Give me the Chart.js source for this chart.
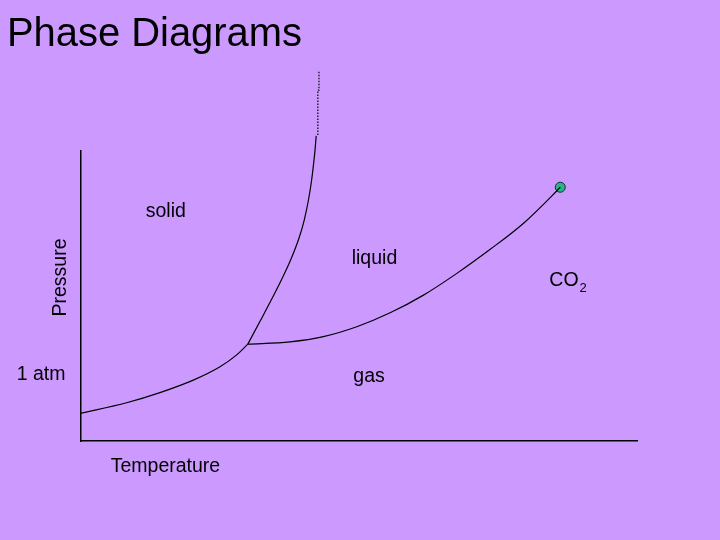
<!DOCTYPE html>
<html>
<head>
<meta charset="utf-8">
<script src="https://cdn.jsdelivr.net/npm/chart.js@4.4.1/dist/chart.umd.min.js"></script>
<style>
  html, body { margin: 0; padding: 0; background: #CC99FF; }
  canvas { display: block; }
</style>
</head>
<body>
<canvas id="c" width="720" height="540"></canvas>
<script>
// ---- Data (arbitrary units: temperature 0-100, pressure 0-100) ----
const sublimationT = [0, 8.2, 14.2, 20.2, 25.0, 28.0, 30.0];
const sublimationP = [9.6, 13.2, 16.7, 21.0, 25.6, 29.7, 33.4];

const meltingT = [30.0, 32.32, 34.54, 36.34, 37.83, 39.20, 40.15, 40.91, 41.48, 41.85, 42.09, 42.30];
const meltingP = [33.4, 41.7, 49.8, 56.7, 63.0, 69.9, 76.2, 83.1, 90.0, 95.9, 100.3, 105.2];

const meltingExtT = [42.6, 42.6, 42.8, 42.8];
const meltingExtP = [105.5, 121.0, 121.0, 127.7];

const vaporT = [30.0, 37.6, 43.6, 49.6, 55.6, 61.6, 67.6, 73.6, 79.6, 85.6, 86.2];
const vaporP = [33.4, 34.2, 36.0, 39.4, 44.2, 50.3, 57.8, 66.1, 75.1, 86.3, 87.5];

const criticalT = [86.2];
const criticalP = [87.5];

const regionLabels = ["solid", "liquid", "gas"];
const titleText = "Phase Diagrams";
const xAxisLabel = "Temperature";
const yAxisLabel = "Pressure";
const pressureTickLabel = "1 atm";
const substanceLabel = ["CO", "2"];

const toPts = (xs, ys) => xs.map((x, i) => ({ x: x, y: ys[i] }));

// ---- Layout of text annotations (pixels) ----
const FONT = '"Liberation Sans", Arial, sans-serif';
const textLayout = {
  title: { x: 7, y: 46, size: 40, width: 295 },
  regions: [
    { x: 145.7, y: 216.7 },
    { x: 351.7, y: 264 },
    { x: 353.3, y: 381.5 }
  ],
  tick: { x: 16.7, y: 379.5 },
  xLabel: { x: 110.7, y: 471.7 },
  yLabel: { x: 66, y: 316.5 },
  substance: { x: 549.3, y: 286, subY: 292 },
  size: 19.5,
  subSize: 13
};

const bgPlugin = {
  id: 'bg',
  beforeDraw(chart) {
    const ctx = chart.ctx;
    ctx.save();
    ctx.fillStyle = '#CC99FF';
    ctx.fillRect(0, 0, chart.width, chart.height);
    ctx.restore();
  }
};

const textPlugin = {
  id: 'texts',
  afterDraw(chart) {
    const ctx = chart.ctx;
    const L = textLayout;
    ctx.save();
    ctx.fillStyle = '#000000';
    ctx.textBaseline = 'alphabetic';
    ctx.textAlign = 'left';

    // title
    ctx.font = L.title.size + 'px ' + FONT;
    const tw = ctx.measureText(titleText).width;
    ctx.save();
    ctx.translate(L.title.x, L.title.y);
    ctx.scale(L.title.width / tw, 1);
    ctx.fillText(titleText, 0, 0);
    ctx.restore();

    ctx.font = L.size + 'px ' + FONT;
    regionLabels.forEach((t, i) => ctx.fillText(t, L.regions[i].x, L.regions[i].y));
    ctx.fillText(pressureTickLabel, L.tick.x, L.tick.y);
    ctx.fillText(xAxisLabel, L.xLabel.x, L.xLabel.y);

    ctx.save();
    ctx.translate(L.yLabel.x, L.yLabel.y);
    ctx.rotate(-Math.PI / 2);
    ctx.fillText(yAxisLabel, 0, 0);
    ctx.restore();

    ctx.fillText(substanceLabel[0], L.substance.x, L.substance.y);
    const cw = ctx.measureText(substanceLabel[0]).width;
    ctx.font = L.subSize + 'px ' + FONT;
    ctx.fillText(substanceLabel[1], L.substance.x + cw + 1, L.substance.subY);
    ctx.restore();
  }
};

const lineStyle = {
  showLine: true,
  borderColor: '#000000',
  borderWidth: 1.2,
  pointRadius: 0,
  cubicInterpolationMode: 'monotone',
  fill: false,
  clip: false
};

new Chart(document.getElementById('c'), {
  type: 'scatter',
  data: {
    datasets: [
      Object.assign({ label: 'sublimation', data: toPts(sublimationT, sublimationP) }, lineStyle),
      Object.assign({ label: 'melting', data: toPts(meltingT, meltingP) }, lineStyle),
      Object.assign({ label: 'melting (ext)', data: toPts(meltingExtT, meltingExtP) }, lineStyle,
        { borderDash: [1.5, 1.5], cubicInterpolationMode: 'default', tension: 0, borderWidth: 1.2 }),
      Object.assign({ label: 'vaporization', data: toPts(vaporT, vaporP) }, lineStyle),
      {
        label: 'critical point',
        data: toPts(criticalT, criticalP),
        showLine: false,
        pointRadius: 5,
        pointBackgroundColor: '#2AB389',
        pointBorderColor: '#10302A',
        pointBorderWidth: 1,
        clip: false
      }
    ]
  },
  options: {
    responsive: false,
    animation: false,
    devicePixelRatio: 1,
    layout: { padding: { left: 81, right: 83, top: 151, bottom: 99 } },
    plugins: { legend: { display: false }, tooltip: { enabled: false }, title: { display: false } },
    scales: {
      x: {
        type: 'linear', min: 0, max: 100,
        grid: { display: false, drawTicks: false },
        ticks: { display: false },
        border: { display: true, color: '#000000', width: 1.5 },
        afterFit: s => { s.height = 0; }
      },
      y: {
        type: 'linear', min: 0, max: 100,
        grid: { display: false, drawTicks: false },
        ticks: { display: false },
        border: { display: true, color: '#000000', width: 1.5 },
        afterFit: s => { s.width = 0; }
      }
    }
  },
  plugins: [bgPlugin, textPlugin]
});
</script>
</body>
</html>
